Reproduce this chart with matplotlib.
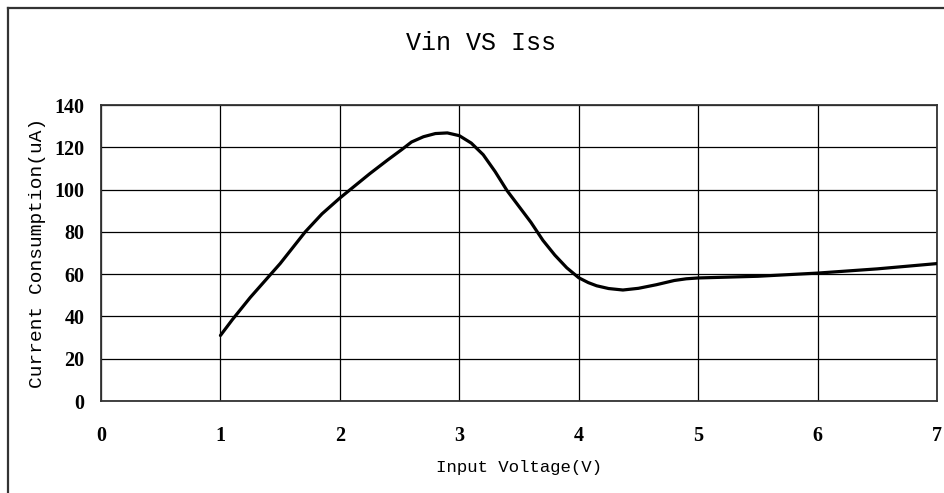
"""Vin VS Iss — current consumption versus input voltage."""

import matplotlib

matplotlib.use("Agg")
import matplotlib.pyplot as plt
from matplotlib.lines import Line2D

# ---------------------------------------------------------------------------
# Data
# ---------------------------------------------------------------------------
vin = [1.0, 1.1, 1.25, 1.5, 1.71, 1.85, 2.0, 2.25, 2.4, 2.52, 2.6, 2.7,
       2.8, 2.9, 3.0, 3.1, 3.2, 3.3, 3.4, 3.5, 3.6, 3.7, 3.8, 3.9, 4.0,
       4.08, 4.15, 4.25, 4.37, 4.5, 4.65, 4.8, 4.9, 5.0, 5.5, 6.0, 6.5,
       7.0]
iss = [31, 38.5, 49, 65, 80, 88.5, 96, 107.5, 114, 119, 122.5, 125,
       126.5, 126.8, 125.5, 122, 116.5, 108.5, 99.5, 92, 84.5, 76, 69,
       63, 58.3, 56, 54.5, 53.2, 52.5, 53.3, 55, 57, 57.8, 58.2, 59,
       60.5, 62.5, 65]

x_ticks = [0, 1, 2, 3, 4, 5, 6, 7]
y_ticks = [0, 20, 40, 60, 80, 100, 120, 140]

MONO = "Liberation Mono"
TICK = "Liberation Serif"

fig = plt.figure(figsize=(9.44, 4.93), dpi=100)
ax = fig.add_axes([0.107, 0.1866, 0.8856, 0.6004])

ax.plot(vin, iss, color="black", lw=2.3, solid_joinstyle="round",
        solid_capstyle="round", zorder=3)

ax.set_xlim(0, 7)
ax.set_ylim(0, 140)
ax.set_xticks(x_ticks)
ax.set_yticks(y_ticks)
ax.grid(True, color="black", lw=0.9)
ax.tick_params(length=0, labelsize=14.5)
ax.tick_params(axis="x", pad=18)
ax.tick_params(axis="y", pad=12)
for lab in ax.get_xticklabels() + ax.get_yticklabels():
    lab.set_fontfamily(TICK)
    lab.set_fontweight("bold")
for sp in ax.spines.values():
    sp.set_color("#333333")
    sp.set_linewidth(1.3)

ax.set_xlabel("Input Voltage(V)", family=MONO, fontsize=12.5, labelpad=10)
ax.set_ylabel("Current Consumption(uA)", family=MONO, fontsize=14, labelpad=6)

fig.text(0.5095, 0.912, "Vin VS Iss", family=MONO, fontsize=18,
         ha="center", va="center")

# outer frame (top and left edges visible, rest runs off the image)
fx, fy = 7.5 / 944, 1 - 7.5 / 493
fig.add_artist(Line2D([fx, fx], [-0.1, fy], color="#333333", lw=1.6,
                      transform=fig.transFigure))
fig.add_artist(Line2D([fx, 1.1], [fy, fy], color="#333333", lw=1.6,
                      transform=fig.transFigure))

fig.savefig("out.png", dpi=100)
plt.close(fig)
